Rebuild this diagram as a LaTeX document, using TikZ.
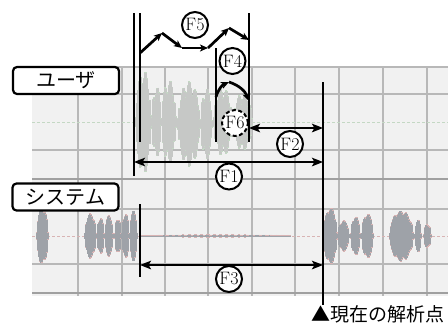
\documentclass[tikz,border=0pt]{standalone}
\usepackage{fontspec}
\newfontfamily\jp{Noto Sans CJK JP}
\usetikzlibrary{arrows.meta}
\definecolor{panel}{HTML}{F1F1F1}
\definecolor{gridc}{HTML}{B8B8B8}
\definecolor{bordc}{HTML}{A0A0A0}
\definecolor{uwave}{HTML}{C6C8C6}
\definecolor{uedge}{HTML}{C4D8C4}
\definecolor{swave}{HTML}{9EA2A8}
\definecolor{sedge}{HTML}{D8B4B4}
\newcommand\wburst[7]{%
  \pgfmathsetmacro\wstep{#1+1.0}%
  \foreach \xx in {#1,\wstep,...,#2}{%
    \pgfmathsetmacro\wamp{#3*(0.12+0.88*sqrt(max(0,sin(180*((\xx-#1)/(#2-#1))))))*(#7+(1-#7)*abs(sin(\xx*29)))}%
    \draw[#6,line width=1.6pt] (\xx,#4-\wamp-0.8) -- (\xx,#4+\wamp+0.8);
    \draw[#5,line width=1.2pt] (\xx,#4-\wamp) -- (\xx,#4+\wamp);
  }}
\begin{document}
\begin{tikzpicture}[x=1pt,y=-1pt,
  grid/.style={draw=gridc,line width=1.1pt},
  vline/.style={line width=2.7pt,black},
  dim/.style={line width=2.7pt,{Stealth[length=11pt,width=8.5pt,inset=2.5pt]}-{Stealth[length=11pt,width=8.5pt,inset=2.5pt]}},
  zz/.style={line width=2.7pt,-{Stealth[length=8pt,width=7pt,inset=2pt]}},
  flab/.style={circle,draw,line width=2pt,fill=white,minimum size=26pt,inner sep=0pt,font=\fontsize{18}{18}\selectfont},
  tlab/.style={draw,rounded corners=4pt,line width=2.2pt,fill=white,minimum width=106pt,minimum height=27pt,inner sep=0pt,font=\jp\fontsize{20}{20}\selectfont},
]
\useasboundingbox (0,0) rectangle (448,327);
% panel and grid
\fill[panel] (32,67) rectangle (448,296);
\foreach \y in {67,94,150,209,264} \draw[grid] (32,\y) -- (448,\y);
\foreach \x in {78,122,165,208,252,295,339,383,427} \draw[grid] (\x,67) -- (\x,296);
\draw[uedge,line width=0.9pt,dash pattern=on 3pt off 2pt] (32,122) -- (448,122);
\draw[sedge,line width=0.9pt,dash pattern=on 3pt off 2pt] (32,236) -- (448,236);
\draw[bordc,line width=2pt] (32,179) -- (448,179);
\draw[bordc,line width=2pt] (32,293) -- (448,293);
% user waveform
\wburst{136}{151}{52}{122}{uwave}{uedge}{0.6}
\wburst{152}{161}{36}{122}{uwave}{uedge}{0.6}
\wburst{162}{176}{42}{122}{uwave}{uedge}{0.6}
\wburst{178}{200}{42}{124}{uwave}{uedge}{0.6}
\wburst{201}{212}{36}{124}{uwave}{uedge}{0.6}
\wburst{214}{232}{34}{122}{uwave}{uedge}{0.6}
\wburst{233}{252}{28}{122}{uwave}{uedge}{0.6}
% system waveform
\wburst{37}{48}{28}{236}{swave}{sedge}{0.8}
\wburst{85}{96}{22}{236}{swave}{sedge}{0.8}
\wburst{97}{104}{18}{236}{swave}{sedge}{0.8}
\wburst{105}{113}{20}{236}{swave}{sedge}{0.8}
\wburst{115}{121}{18}{236}{swave}{sedge}{0.8}
\wburst{122}{129}{22}{236}{swave}{sedge}{0.8}
\wburst{130}{137}{25}{236}{swave}{sedge}{0.8}
\wburst{142}{290}{0.8}{236}{swave}{sedge}{0.2}
\wburst{324}{337}{28}{236}{swave}{sedge}{0.8}
\wburst{338}{349}{15}{236}{swave}{sedge}{0.8}
\wburst{351}{360}{19}{236}{swave}{sedge}{0.8}
\wburst{362}{373}{22}{236}{swave}{sedge}{0.8}
\wburst{390}{413}{25}{236}{swave}{sedge}{0.8}
\wburst{415}{421}{16}{236}{swave}{sedge}{0.8}
\wburst{424}{431}{12}{236}{swave}{sedge}{0.8}
% labels
\node[tlab] (user) at (66,80.5) {ユーザ};
\node[tlab] (sys) at (65.5,197) {システム};
% coordinates
\coordinate (A1) at (134,13);  \coordinate (A2) at (134,176);
\coordinate (B1) at (140,13);  \coordinate (B2) at (140,142);
\coordinate (C1) at (249,13);  \coordinate (C2) at (249,142);
\coordinate (D1) at (216,48);  \coordinate (D2) at (216,142);
\coordinate (E1) at (323,82);  \coordinate (E2) at (323,305);
\coordinate (G1) at (140,204); \coordinate (G2) at (140,277);
\draw[vline] (A1) -- (A2);
\draw[vline] (B1) -- (B2);
\draw[vline] (C1) -- (C2);
\draw[vline] (D1) -- (D2);
\draw[vline] (E1) -- (E2);
\draw[vline] (G1) -- (G2);
% F5 zigzag
\coordinate (z0) at (140,53);
\coordinate (z1) at (162,33);
\coordinate (z2) at (182,48);
\coordinate (z3) at (208,48);
\coordinate (z4) at (229,28);
\coordinate (z5) at (249,40);
\draw[zz] (z0) -- (z1);
\draw[zz] (z1) -- (z2);
\draw[zz] (z2) -- (z3);
\draw[zz] (z3) -- (z4);
\draw[zz] (z4) -- (z5);
% F4 arc
\coordinate (y0) at (216,97);
\coordinate (y1) at (229,82);
\coordinate (y2) at (249,101);
\draw[zz] (y0) to[bend left=25] (y1);
\draw[zz] (y1) to[bend left=25] (y2);
% dimension arrows
\coordinate (p1l) at (134,162); \coordinate (p1r) at (323,162);
\coordinate (p2l) at (249,128); \coordinate (p2r) at (323,128);
\coordinate (p3l) at (140,265); \coordinate (p3r) at (323,265);
\draw[dim] (p1l) -- (p1r);
\draw[dim] (p2l) -- (p2r);
\draw[dim] (p3l) -- (p3r);
% circle labels
\node[flab] (f5) at (195,25) {F5};
\node[flab] (f4) at (232.5,61) {F4};
\node[flab,dashed,dash pattern=on 4pt off 2.5pt] (f6) at (235,123) {F6};
\node[flab] (f2) at (290,144) {F2};
\node[flab] (f1) at (229,176.5) {F1};
\node[flab] (f3) at (229,279) {F3};
% bottom label
\node[font=\jp\fontsize{19}{19}\selectfont,inner sep=0pt] (now) at (378,314) {▲現在の解析点};
\end{tikzpicture}
\end{document}
